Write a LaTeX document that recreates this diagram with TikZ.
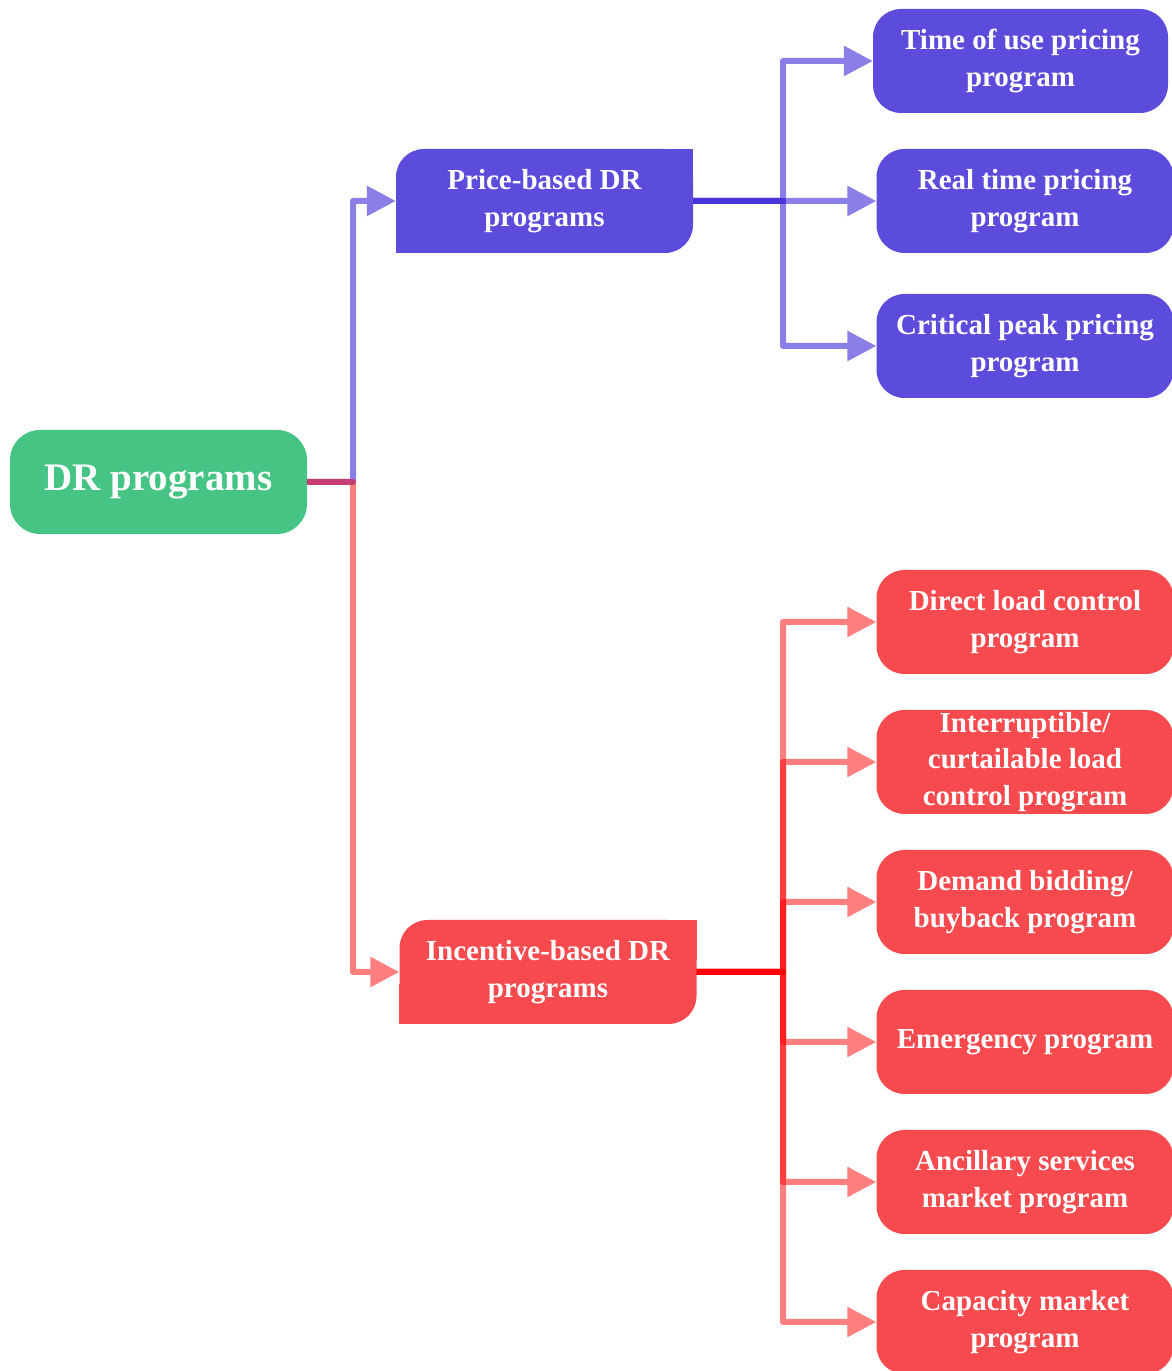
\documentclass[tikz,border=0pt]{standalone}
\usepackage{fontspec}
\setmainfont{Liberation Serif}
\usetikzlibrary{arrows.meta,backgrounds}
\definecolor{boxpurple}{RGB}{91,76,219}
\definecolor{boxred}{RGB}{246,74,79}
\definecolor{boxgreen}{RGB}{70,196,132}
\definecolor{linepurple}{RGB}{60,40,215}
\definecolor{linered}{RGB}{255,0,0}
\tikzset{
  x=1pt,y=1pt,
  basebox/.style={minimum width=297pt,minimum height=104pt,inner sep=0pt,
    align=center,text=white,font=\bfseries\fontsize{29}{36.5}\selectfont},
  leafp/.style={basebox,fill=boxpurple,rounded corners=28pt},
  leafr/.style={basebox,fill=boxred,rounded corners=28pt},
  midp/.style={basebox,fill=boxpurple,rounded corners=28pt},
  midr/.style={basebox,fill=boxred,rounded corners=28pt},
  rootbox/.style={basebox,fill=boxgreen,rounded corners=30pt,
    font=\bfseries\fontsize{39}{46}\selectfont},
  conn/.style={line width=6pt,line join=round,
    -{Triangle[length=29pt,width=29pt]}},
  pline/.style={conn,draw=linepurple},
  rline/.style={conn,draw=linered},
  pgroup/.style={transparency group,opacity=0.6},
  rgroup/.style={transparency group,opacity=0.5},
}
\begin{document}
\begin{tikzpicture}
\useasboundingbox (0,0) rectangle (1171,1371);
% nodes
\node[rootbox] (dr) at (158.5,889) {DR programs};
\node[midp] (price) at (544.5,1170) {Price-based DR\\programs};
\node[midr] (inc) at (548,399) {Incentive-based DR\\programs};
\begin{scope}[on background layer]
  \fill[boxpurple] (price.north east) rectangle ++(-40,-40);
  \fill[boxpurple] (price.south west) rectangle ++(40,40);
  \fill[boxred] (inc.north east) rectangle ++(-40,-40);
  \fill[boxred] (inc.south west) rectangle ++(40,40);
\end{scope}
\node[leafp,minimum width=295pt] (p1) at (1020.5,1310) {Time of use pricing\\program};
\node[leafp] (p2) at (1025,1170) {Real time pricing\\program};
\node[leafp] (p3) at (1025,1025) {Critical peak pricing\\program};
\node[leafr] (r1) at (1025,749) {Direct load control\\program};
\node[leafr] (r2) at (1025,609) {Interruptible/\\curtailable load\\control program};
\node[leafr] (r3) at (1025,469) {Demand bidding/\\buyback program};
\node[leafr] (r4) at (1025,329) {Emergency program};
\node[leafr] (r5) at (1025,189) {Ancillary services\\market program};
\node[leafr] (r6) at (1025,49) {Capacity market\\program};
% junctions
\coordinate (jdr) at (353,889);
\coordinate (jp) at (783,1170);
\coordinate (jr) at (783,399);
% connectors
\begin{scope}[pgroup]
  \draw[pline] (dr.east) -- (jdr) |- (price.west);
\end{scope}
\begin{scope}[rgroup]
  \draw[rline] (dr.east) -- (jdr) |- (inc.west);
\end{scope}
\foreach \c in {p1,p2,p3}{
  \begin{scope}[pgroup]
    \draw[pline] (price.east) -- (jp) |- (\c.west);
  \end{scope}
}
\foreach \c in {r1,r2,r3,r4,r5,r6}{
  \begin{scope}[rgroup]
    \draw[rline] (inc.east) -- (jr) |- (\c.west);
  \end{scope}
}
\end{tikzpicture}
\end{document}
